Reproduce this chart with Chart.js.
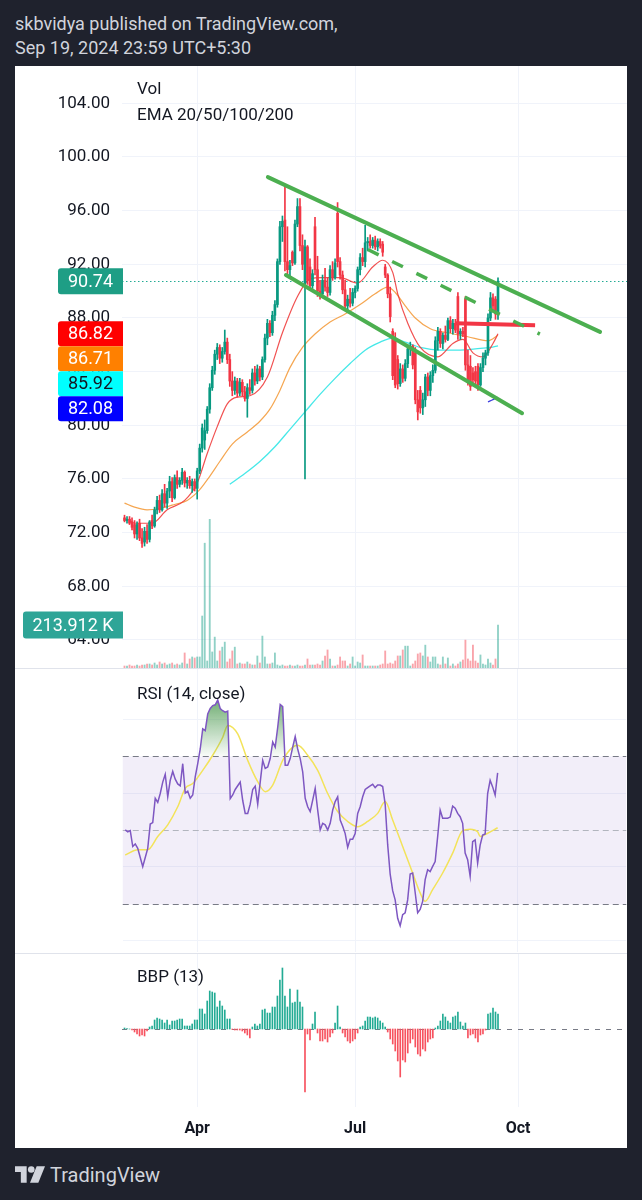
<!DOCTYPE html>
<html>
<head>
<meta charset="utf-8">
<script src="https://cdn.jsdelivr.net/npm/chart.js@4.4.1/dist/chart.umd.min.js"></script>
<style>
  html, body { margin: 0; padding: 0; }
  body { width: 642px; height: 1200px; background: #1f222d; position: relative; overflow: hidden; font-family: Roboto, "Noto Sans", sans-serif; }
  .hdr { position: absolute; left: 15px; color: #d1d4dc; font-size: 18px; line-height: 22px; white-space: nowrap; }
  #panel { position: absolute; left: 15px; top: 66px; width: 612px; height: 1082px; background: #fff; }
  canvas { position: absolute; }
  .lbl { position: absolute; left: 137px; color: #131722; font-size: 17px; line-height: 20px; white-space: nowrap; }
  .sep { position: absolute; left: 15px; width: 612px; height: 1px; background: #e0e3eb; }
  #brand { position: absolute; left: 50px; top: 1163px; color: #d1d4dc; font-size: 20px; line-height: 24px; }
</style>
</head>
<body>
<div class="hdr" style="top:13px">skbvidya published on TradingView.com,</div>
<div class="hdr" style="top:37px">Sep 19, 2024 23:59 UTC+5:30</div>
<div id="panel"></div>
<canvas id="price" width="612" height="602" style="left:15px;top:66px;width:612px;height:602px"></canvas>
<canvas id="rsi" width="505" height="285" style="left:122px;top:668px;width:505px;height:285px"></canvas>
<canvas id="bbp" width="505" height="195" style="left:122px;top:953px;width:505px;height:195px"></canvas>
<div class="sep" style="top:668px"></div>
<div class="sep" style="top:953px"></div>
<div class="lbl" style="top:78px">Vol</div>
<div class="lbl" style="top:104px">EMA 20/50/100/200</div>
<div class="lbl" style="top:683px">RSI (14, close)</div>
<div class="lbl" style="top:966px">BBP (13)</div>
<svg style="position:absolute;left:15px;top:1166px" width="30" height="17" viewBox="0 0 36 20">
  <path d="M0 0h14v20H7V7H0z" fill="#d1d4dc"/>
  <circle cx="19.5" cy="4" r="4" fill="#d1d4dc"/>
  <path d="M26 0h10l-8 20H18z" fill="#d1d4dc"/>
</svg>
<div id="brand">TradingView</div>
<script>
// time axis: bar index, month starts
const monthTicks = [29, 92, 157];
const monthLabels = ['Apr', 'Jul', 'Oct'];
const priceTicks = [64, 68, 72, 76, 80, 84, 88, 92, 96, 100, 104];
const rsiGrid = [20, 40, 60, 80];
const rsiLevels = [70, 50, 30];

// daily candles
const open = [73.1,72.9,73.0,72.8,72.6,71.9,72.7,71.6,71.3,72.1,
  71.5,72.9,72.5,73.7,74.4,73.7,74.9,74.2,75.1,75.8,
  74.6,76.1,75.6,75.9,76.5,75.7,75.9,75.5,75.8,75.3,
  76.6,78.3,78.9,79.6,81.2,82.8,84.1,85.3,85.8,85.0,
  85.5,86.2,84.9,83.3,82.6,83.3,82.4,83.2,82.5,82.0,
  82.8,82.6,83.9,83.3,84.2,83.6,84.9,86.5,87.6,86.9,
  88.2,89.0,92.2,94.8,95.3,92.2,91.6,92.9,92.1,95.0,
  96.3,93.4,90.6,93.3,91.8,90.4,94.8,91.6,90.0,89.8,
  90.8,90.3,89.9,91.6,91.0,95.8,92.2,91.2,90.1,88.9,
  89.4,89.1,89.9,90.2,91.6,92.5,92.2,93.6,93.7,93.4,
  93.8,93.3,93.7,93.5,91.8,91.2,89.8,87.0,86.4,84.9,
  83.1,84.2,83.5,84.6,85.7,85.9,85.4,81.9,82.6,81.3,
  81.9,83.6,82.6,83.7,84.1,86.3,87.0,86.1,86.7,86.4,
  87.8,87.2,87.6,89.6,86.8,87.0,89.4,84.5,84.4,83.9,
  84.0,84.4,83.0,84.3,85.0,85.4,88.0,89.5,89.4,88.3];
const high = [73.3,73.2,73.2,73.1,72.9,72.8,73.0,72.3,72.4,72.6,
  72.9,73.3,73.9,74.7,74.8,75.2,75.6,75.3,76.2,76.1,
  76.3,76.6,76.1,76.8,76.6,76.1,76.2,76.0,76.0,76.8,
  78.6,80.1,80.4,81.4,83.1,84.4,85.6,86.1,86.0,85.8,
  87.1,86.5,85.3,84.0,83.6,83.5,83.5,83.4,82.9,83.1,
  83.4,84.2,84.4,84.5,84.4,85.1,86.8,87.9,87.8,88.5,
  89.3,92.4,95.2,95.6,97.9,94.8,92.3,93.0,95.3,96.9,
  96.9,94.2,93.8,93.4,92.4,91.6,95.5,92.6,90.8,91.2,
  91.7,91.0,91.9,92.2,92.4,96.6,92.5,91.5,90.8,89.7,
  90.2,90.2,90.4,91.8,92.8,93.2,94.9,94.0,94.2,94.0,
  94.1,93.9,93.9,93.7,92.0,91.3,90.3,87.2,86.9,85.2,
  84.6,84.5,84.9,86.0,86.2,86.0,85.8,82.6,82.9,82.4,
  83.8,83.9,84.0,84.5,86.6,87.3,87.2,86.9,87.4,88.0,
  88.1,87.9,87.9,89.9,87.2,87.3,89.6,85.6,85.2,84.3,
  84.4,84.6,84.6,85.4,85.6,88.3,89.9,89.8,89.6,91.0];
const low = [72.8,72.7,72.6,72.2,71.6,71.5,71.4,70.9,71.0,71.2,
  71.3,72.3,72.4,73.4,73.5,73.6,73.9,73.8,74.6,74.3,
  74.5,75.3,75.4,75.6,75.4,75.3,75.3,75.0,75.1,74.5,
  76.4,78.0,78.2,79.4,80.9,82.6,83.8,84.9,84.6,84.7,
  85.3,84.6,82.9,82.2,82.3,82.1,82.2,82.2,81.8,80.6,
  82.3,82.4,83.0,83.1,83.3,83.4,84.7,86.0,86.6,86.7,
  87.8,88.8,92.0,93.7,91.5,91.2,91.0,91.9,92.0,94.8,
  93.0,91.6,76.0,90.5,90.2,90.2,91.2,89.6,89.4,89.5,
  90.0,89.6,89.7,90.8,90.9,91.8,90.9,89.8,88.6,88.4,
  88.8,88.9,89.5,90.0,91.2,91.9,91.8,93.0,93.2,93.2,
  93.1,93.0,93.2,92.6,91.0,89.5,87.7,83.4,82.8,82.7,
  82.9,83.2,83.3,84.3,85.2,84.2,81.6,80.4,80.9,80.8,
  81.4,82.2,82.2,83.2,83.9,85.6,85.8,85.7,86.2,86.3,
  86.9,86.8,86.9,86.4,86.4,86.6,84.1,83.0,82.6,83.0,
  82.9,82.6,82.9,84.0,84.5,85.2,87.8,88.6,87.9,87.9];
const close = [72.9,73.0,72.7,72.4,71.9,72.6,71.6,71.2,72.1,71.5,
  72.8,72.5,73.7,74.4,73.7,74.9,74.2,75.1,75.8,74.6,
  76.1,75.6,75.9,76.5,75.7,75.9,75.5,75.8,75.3,76.6,
  78.3,79.8,79.6,81.2,82.8,84.1,85.3,85.8,85.0,85.5,
  86.2,84.9,83.3,82.6,83.3,82.4,83.2,82.5,82.0,82.8,
  82.6,83.9,83.3,84.2,83.6,84.9,86.5,87.6,86.9,88.2,
  89.0,92.2,94.8,95.2,92.2,91.6,91.9,92.1,95.0,96.3,
  93.4,92.0,93.3,90.8,90.4,91.3,91.6,90.0,89.8,90.8,
  90.3,89.9,91.6,91.0,92.1,92.2,91.2,90.1,88.9,89.4,
  89.1,89.9,90.2,91.6,92.5,92.2,93.6,93.7,93.4,93.8,
  93.3,93.7,93.4,92.9,91.2,89.8,88.1,83.7,83.0,83.1,
  84.2,83.5,84.6,85.7,85.9,84.5,81.9,81.0,81.3,81.9,
  83.6,82.6,83.7,84.1,86.3,87.0,86.1,86.7,86.4,87.8,
  87.2,87.6,87.1,86.8,87.0,86.8,84.5,83.4,82.9,83.4,
  83.3,83.0,84.3,85.0,85.4,88.0,89.5,88.9,88.3,90.74];
// volume, thousands
const volume = [10,10,15,10,10,15,10,15,15,20,
  20,15,25,15,30,20,25,15,20,25,
  15,20,15,25,75,20,45,55,50,55,
  55,259,622,35,741,80,154,35,85,104,
  129,30,45,85,104,20,25,20,20,30,
  20,15,15,60,25,159,55,20,20,25,
  75,15,10,15,10,10,15,10,10,15,
  10,10,15,45,15,15,15,20,15,35,
  60,90,45,10,10,15,55,35,35,10,
  20,55,10,30,25,65,10,10,10,10,
  10,10,15,20,85,20,25,20,35,60,
  60,90,109,109,10,20,35,70,75,60,
  114,55,30,55,55,20,15,55,20,50,
  10,20,10,20,30,40,139,45,35,114,
  35,25,65,20,15,45,25,15,45,213.912];

// moving averages as [bar, value]
const ema20 = [[2,72.9],[4,72.7],[11,72.7],[17,73.7],[24,74.4],[29,75.7],[33,77.9],[37,79.9],[41,81.6],[45,82.1],[50,82.2],[57,83.6],[63,86.9],[69,89.6],[74,90.9],[79,91.0],[86,91.0],[93,90.6],[99,91.8],[103,92.3],[107,91.4],[109,89.8],[113,87.6],[118,85.8],[125,85.1],[131,86.1],[135,86.4],[139,85.4],[143,85.1],[147,86.1],[149,86.82]];
const ema50 = [[0,74.2],[4,73.9],[9,73.7],[14,73.8],[20,74.1],[25,74.4],[30,75.2],[34,76.2],[38,77.3],[43,78.6],[49,79.5],[54,80.3],[58,81.2],[62,82.6],[66,84.3],[71,85.8],[76,86.8],[82,87.7],[88,88.3],[94,89.0],[100,89.8],[105,90.3],[108,89.9],[112,88.9],[116,88.0],[122,87.2],[129,86.9],[137,86.6],[145,86.3],[149,86.71]];
const ema100 = [[42,75.6],[48,76.4],[54,77.3],[60,78.4],[66,79.7],[72,81.0],[78,82.3],[84,83.5],[90,84.6],[96,85.6],[102,86.2],[107,86.5],[112,86.2],[118,85.8],[126,85.6],[134,85.6],[140,85.7],[146,85.8],[149,85.92]];
const ema200 = [[145,81.75],[147,81.92],[149,82.08]];

// drawn lines as [bar, price]
const trendUpper = [[57.2,98.5],[189.7,86.96]];
const trendLower = [[64.4,91.2],[158.6,80.9]];
const trendMid = [[97.1,93.1],[165.7,86.8]];
const redLevel = [[131.8,87.6],[163.8,87.45]];

const rsi = [50,49.5,49.8,45.5,46.2,45,42.5,40,42.5,45,
  51.6,52,58.6,57.5,59.9,63,65.1,59,63.5,65.9,
  63.8,62.5,62,68,60,60.5,58.6,59.5,64.4,68,
  72,77.5,77,81.5,83,83.8,84,85.3,83,82.4,
  82,82.3,58.5,59.5,61,62,63,58,54.5,54.5,
  57,61,61.9,57,63,68.9,66.7,67.1,69.4,73.9,
  72.5,77.9,84.1,83.5,67.6,67.6,69.4,72.5,75.4,72,
  69.4,65.8,58.6,56.3,55,58.1,61.3,55.4,50,51.8,
  51.4,50,51.8,55.4,57.7,59,52.7,51,49,45.3,
  47.5,47.5,49,54.5,56.3,59,61,61.5,62,62.4,
  61.5,62.2,62.2,61.8,57,46,38,33.5,31,26,
  24,27,27.5,31,38,38.3,33,27.5,28.4,30.6,
  36.5,39.2,38.7,40.1,41.4,48.2,55.4,53.2,53.2,53.2,
  53.5,56.5,55.9,54.5,53.6,51.8,43.7,41.9,37.4,46.8,
  47.3,41,45.9,48.6,48.9,59.9,63.5,61.7,59.5,65.5];
const rsiMa = [[0,43.2],[5,44.6],[9,44.6],[13,48.2],[17,51.4],[21,56.3],[24,61.3],[27,62.6],[31,66.2],[35,70.3],[39,75.2],[41,78.4],[45,76.1],[49,68.9],[53,63.1],[56,60.4],[59,62.2],[63,68.9],[67,72.5],[69,73],[73,70.3],[77,66.2],[81,59.9],[85,55],[89,52.3],[93,50.9],[97,52.3],[101,54.5],[104,57.7],[107,52.7],[111,45.5],[115,38.3],[118,32.9],[120,30.6],[123,33.8],[127,38.3],[131,43.7],[135,49.8],[138,50.2],[141,49.5],[142,48.2],[145,49.1],[149,50.6]];

const bbp = [0.1,0.05,0,-0.1,-0.3,-0.5,-0.7,-0.6,-0.7,-0.2,
  0.2,0.3,0.9,1.1,1.0,0.9,0.6,0.9,0.4,0.8,
  0.8,0.9,1.0,1.0,0.3,0.3,0.3,0.5,0.9,0.9,
  2.0,2.0,1.5,2.8,3.8,3.7,3.6,2.2,2.8,2.3,
  1.9,1.0,1.0,-0.05,-0.1,-0.1,-0.1,-0.2,-0.4,-0.6,
  -0.9,0.2,0.5,0.3,0.5,1.9,2.0,1.6,1.6,2.2,
  2.2,3.3,4.9,6.1,3.3,2.2,4.0,2.6,2.7,3.9,
  2.7,2.2,-6.3,-0.5,-1.1,0.5,1.7,-0.4,-1.2,-1.2,
  -1.0,-1.3,-0.8,-0.4,0.6,2.3,0.2,-0.4,-0.8,-1.2,
  -1.4,-1.2,-1.0,-0.4,0.2,0.3,0.8,1.2,1.2,1.1,
  1.2,1.1,0.8,0.6,0.2,-0.3,-1.0,-1.5,-2.2,-3.2,
  -4.8,-3.1,-3.3,-2.4,-1.4,-1.0,-1.8,-2.5,-2.7,-2.0,
  -2.2,-1.3,-1.0,-0.9,0.1,0.3,0.8,1.5,1.2,0.8,
  0.6,1.2,1.3,1.7,0.7,0.3,0.6,-0.9,-0.6,-0.5,
  -0.9,-1.3,-0.6,-0.5,-0.1,1.5,1.6,2.1,1.7,1.5];

// axis ranges
const xMin = -1, xMax = 200.46;
const priceMin = 61.91, priceMax = 106.78;
const volMax = 3000;
const rsiMin = 16.77, rsiMax = 93.8;
const bbpMin = -7.8, bbpMax = 7.6;

Chart.defaults.font.family = 'Roboto, "Noto Sans", sans-serif';
Chart.defaults.animation = false;

const gridColor = '#f0f3fa';
const upColor = '#089981', downColor = '#f23645';
const bars = close.map((c, i) => i);
const candleColor = close.map((c, i) => c >= open[i] ? upColor : downColor);
const volColor = close.map((c, i) => c >= open[i] ? 'rgba(8,153,129,0.45)' : 'rgba(242,54,69,0.45)');
const pts = arr => arr.map(([x, y]) => ({ x, y }));

function timeAxis(showLabels) {
  return {
    type: 'linear', min: xMin, max: xMax, offset: false,
    afterBuildTicks: s => { s.ticks = monthTicks.map(v => ({ value: v })); },
    afterFit: s => { s.paddingLeft = 0; s.paddingRight = 0; s.height = showLabels ? 41 : 0; },
    grid: { color: gridColor, drawTicks: false, offset: false },
    border: { display: false },
    ticks: {
      display: showLabels, autoSkip: false, maxRotation: 0, padding: 12,
      color: '#131722', font: { size: 16, weight: 'bold' },
      callback: v => monthLabels[monthTicks.indexOf(v)]
    }
  };
}

const lineDs = (data, color, width, extra) => Object.assign({
  type: 'line', data: pts(data), borderColor: color, borderWidth: width,
  pointRadius: 0, fill: false, yAxisID: 'y'
}, extra);

const lastPriceLine = {
  id: 'lastPriceLine',
  beforeDatasetsDraw(chart) {
    const { ctx, chartArea: a, scales: { y } } = chart;
    const py = Math.round(y.getPixelForValue(close[close.length - 1])) + 0.5;
    ctx.save();
    ctx.strokeStyle = '#22ab94';
    ctx.lineWidth = 1;
    ctx.setLineDash([1.5, 2.5]);
    ctx.beginPath(); ctx.moveTo(a.left, py); ctx.lineTo(a.right, py); ctx.stroke();
    ctx.restore();
  }
};

const emaTags = [
  { value: ema20[ema20.length - 1][1], bg: '#ff0000', fg: '#ffffff' },
  { value: ema50[ema50.length - 1][1], bg: '#ff8000', fg: '#ffffff' },
  { value: ema100[ema100.length - 1][1], bg: '#00ffff', fg: '#131722' },
  { value: ema200[ema200.length - 1][1], bg: '#0000ff', fg: '#ffffff' }
];

const tagPlugin = {
  id: 'tags',
  afterDraw(chart) {
    const { ctx, chartArea, scales: { y, yv } } = chart;
    const right = chartArea.left + 1;
    const drawTag = (cy, w, h, bg, fg, text) => {
      ctx.fillStyle = bg;
      ctx.beginPath();
      if (ctx.roundRect) ctx.roundRect(right - w, cy - h / 2, w, h, [3, 0, 0, 3]);
      else ctx.rect(right - w, cy - h / 2, w, h);
      ctx.fill();
      ctx.fillStyle = fg;
      ctx.fillText(text, right - w / 2, cy + 1);
    };
    ctx.save();
    ctx.font = '18px Roboto, "Noto Sans", sans-serif';
    ctx.textAlign = 'center';
    ctx.textBaseline = 'middle';
    const last = close[close.length - 1];
    drawTag(y.getPixelForValue(last), 65, 26, '#1e9e85', '#ffffff', last.toFixed(2));
    let prev = -Infinity;
    emaTags.forEach(t => {
      const cy = Math.max(y.getPixelForValue(t.value), prev + 25);
      drawTag(cy, 65, 25, t.bg, t.fg, t.value.toFixed(2));
      prev = cy;
    });
    const v = volume[volume.length - 1];
    drawTag(yv.getPixelForValue(v), 100, 27, '#2ea597', '#ffffff', v.toFixed(3) + ' K');
    ctx.restore();
  }
};

new Chart(document.getElementById('price'), {
  type: 'bar',
  data: {
    datasets: [
      lineDs(trendUpper, '#4caf50', 4, { order: 0, borderCapStyle: 'round' }),
      lineDs(trendLower, '#4caf50', 4, { order: 0, borderCapStyle: 'round' }),
      lineDs(trendMid, '#4caf50', 3.5, { order: 0, borderDash: [12, 15] }),
      lineDs(redLevel, '#f23645', 4, { order: 0 }),
      {
        type: 'bar', yAxisID: 'y', order: 1, grouped: false,
        data: bars.map(i => ({ x: i, y: [open[i], close[i]] })),
        backgroundColor: candleColor, barThickness: 2, maxBarThickness: 2, minBarLength: 1
      },
      {
        type: 'bar', yAxisID: 'y', order: 2, grouped: false,
        data: bars.map(i => ({ x: i, y: [low[i], high[i]] })),
        backgroundColor: candleColor, barThickness: 1, maxBarThickness: 1
      },
      lineDs(ema20, 'rgba(238,50,50,0.85)', 1.2, { order: 3, cubicInterpolationMode: 'monotone' }),
      lineDs(ema50, 'rgba(243,150,50,0.85)', 1.2, { order: 3, cubicInterpolationMode: 'monotone' }),
      lineDs(ema100, 'rgba(50,230,230,0.9)', 1.3, { order: 3, cubicInterpolationMode: 'monotone' }),
      lineDs(ema200, 'rgba(40,40,220,0.9)', 1.3, { order: 3, cubicInterpolationMode: 'monotone' }),
      {
        type: 'bar', yAxisID: 'yv', order: 5, grouped: false,
        data: bars.map(i => ({ x: i, y: volume[i] })),
        backgroundColor: volColor, barThickness: 1.2, maxBarThickness: 1.2
      }
    ]
  },
  options: {
    responsive: false, devicePixelRatio: 1,
    plugins: { legend: { display: false }, tooltip: { enabled: false } },
    scales: {
      x: timeAxis(false),
      y: {
        position: 'left', min: priceMin, max: priceMax,
        afterBuildTicks: s => { s.ticks = priceTicks.map(v => ({ value: v })); },
        afterFit: s => { s.width = 107; s.paddingTop = 0; s.paddingBottom = 0; },
        grid: { color: gridColor, drawTicks: false },
        border: { display: false },
        ticks: { color: '#131722', font: { size: 17 }, padding: 12, autoSkip: false, callback: v => Number(v).toFixed(2) }
      },
      yv: { display: false, min: 0, max: volMax }
    }
  },
  plugins: [lastPriceLine, tagPlugin]
});

const rsiBands = {
  id: 'rsiBands',
  beforeDatasetsDraw(chart) {
    const { ctx, chartArea: a, scales: { y } } = chart;
    const [hi, mid, lo] = rsiLevels.map(v => Math.round(y.getPixelForValue(v)) + 0.5);
    ctx.save();
    ctx.fillStyle = 'rgba(126,87,194,0.1)';
    ctx.fillRect(a.left, hi, a.right - a.left, lo - hi);
    ctx.lineWidth = 1;
    ctx.setLineDash([6, 4]);
    ctx.strokeStyle = '#787b86';
    [hi, lo].forEach(py => { ctx.beginPath(); ctx.moveTo(a.left, py); ctx.lineTo(a.right, py); ctx.stroke(); });
    ctx.strokeStyle = '#b2b5be';
    ctx.beginPath(); ctx.moveTo(a.left, mid); ctx.lineTo(a.right, mid); ctx.stroke();
    ctx.restore();
  }
};

const rsiChart = new Chart(document.getElementById('rsi'), {
  type: 'line',
  data: {
    datasets: [
      {
        data: rsi.map((v, i) => ({ x: i, y: v })), borderColor: '#7e57c2', borderWidth: 1.5,
        pointRadius: 0, order: 0,
        fill: { target: { value: rsiLevels[0] }, above: 'rgba(76,175,80,0.35)', below: 'rgba(0,0,0,0)' }
      },
      {
        data: pts(rsiMa), borderColor: '#f3e35a', borderWidth: 1.5, pointRadius: 0,
        cubicInterpolationMode: 'monotone', fill: false, order: 1
      }
    ]
  },
  options: {
    responsive: false, devicePixelRatio: 1,
    plugins: { legend: { display: false }, tooltip: { enabled: false } },
    scales: {
      x: timeAxis(false),
      y: {
        min: rsiMin, max: rsiMax,
        afterBuildTicks: s => { s.ticks = rsiGrid.map(v => ({ value: v })); },
        afterFit: s => { s.width = 0; s.paddingTop = 0; s.paddingBottom = 0; },
        ticks: { display: false },
        grid: { color: gridColor, drawTicks: false },
        border: { display: false }
      }
    }
  },
  plugins: [rsiBands]
});

const ry = rsiChart.scales.y;
const grad = rsiChart.ctx.createLinearGradient(0, ry.getPixelForValue(86), 0, ry.getPixelForValue(rsiLevels[0]));
grad.addColorStop(0, 'rgba(56,142,60,0.75)');
grad.addColorStop(1, 'rgba(56,142,60,0.03)');
rsiChart.data.datasets[0].fill.above = grad;
rsiChart.update('none');

const zeroLine = {
  id: 'zeroLine',
  beforeDatasetsDraw(chart) {
    const { ctx, chartArea: a, scales: { y } } = chart;
    const py = Math.round(y.getPixelForValue(0)) + 0.5;
    ctx.save();
    ctx.strokeStyle = '#787b86';
    ctx.lineWidth = 1;
    ctx.setLineDash([5, 6]);
    ctx.beginPath(); ctx.moveTo(a.left, py); ctx.lineTo(a.right, py); ctx.stroke();
    ctx.restore();
  }
};

new Chart(document.getElementById('bbp'), {
  type: 'bar',
  data: {
    datasets: [{
      data: bbp.map((v, i) => ({ x: i, y: v })),
      backgroundColor: bbp.map(v => v >= 0 ? '#22ab94' : '#f7525f'),
      barThickness: 1, maxBarThickness: 1, grouped: false
    }]
  },
  options: {
    responsive: false, devicePixelRatio: 1,
    plugins: { legend: { display: false }, tooltip: { enabled: false } },
    scales: {
      x: timeAxis(true),
      y: { display: false, min: bbpMin, max: bbpMax }
    }
  },
  plugins: [zeroLine]
});
</script>
</body>
</html>
